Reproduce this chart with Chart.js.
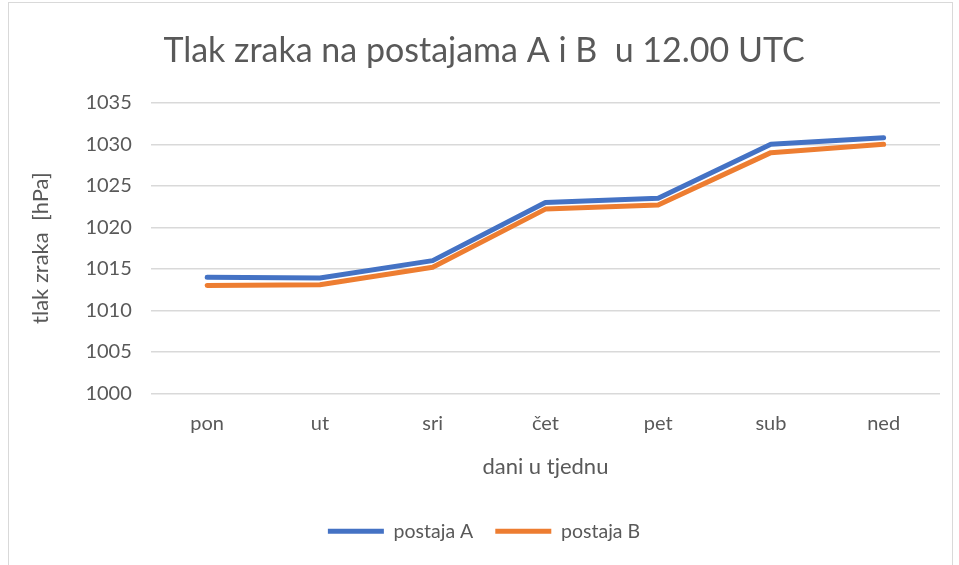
<!DOCTYPE html>
<html>
<head>
<meta charset="utf-8">
<script src="https://cdn.jsdelivr.net/npm/chart.js@4/dist/chart.umd.min.js"></script>
<style>
  html, body { margin: 0; padding: 0; background: #fff; }
  #wrap { position: absolute; left: 0; top: 0; width: 959px; height: 565px; }
  #frame { position: absolute; left: 8px; top: 2px; width: 945px; height: 580px; border: 1px solid #d9d9d9; box-sizing: border-box; }
  canvas { position: absolute; left: 0; top: 0; }
</style>
</head>
<body>
<div id="wrap">
  <div id="frame"></div>
  <canvas id="c" width="959" height="565"></canvas>
</div>
<script>
const categories = ['pon', 'ut', 'sri', 'čet', 'pet', 'sub', 'ned'];
const postajaA = [1014.0, 1013.9, 1016.0, 1023.0, 1023.5, 1030.0, 1030.8];
const postajaB = [1013.0, 1013.1, 1015.2, 1022.2, 1022.7, 1029.0, 1030.0];
const yTicks = [1000, 1005, 1010, 1015, 1020, 1025, 1030, 1035];

const FONT = "Lato, 'Open Sans', sans-serif";
const TXT = '#595959';

new Chart(document.getElementById('c'), {
  type: 'line',
  data: {
    labels: categories,
    datasets: [
      { label: 'postaja A', data: postajaA, borderColor: '#4472C4', backgroundColor: '#4472C4',
        borderWidth: 5, pointRadius: 0, tension: 0, borderCapStyle: 'round', borderJoinStyle: 'round' },
      { label: 'postaja B', data: postajaB, borderColor: '#ED7D31', backgroundColor: '#ED7D31',
        borderWidth: 5, pointRadius: 0, tension: 0, borderCapStyle: 'round', borderJoinStyle: 'round' }
    ]
  },
  options: {
    responsive: false,
    animation: false,
    layout: { padding: { left: 28, right: 19, top: 31, bottom: 14 } },
    plugins: {
      tooltip: { enabled: false },
      title: {
        display: true,
        text: 'Tlak zraka na postajama A i B  u 12.00 UTC',
        color: TXT,
        font: { family: FONT, size: 34, weight: 'normal' },
        padding: { top: 0, bottom: 31 }
      },
      legend: {
        position: 'bottom',
        labels: {
          color: TXT,
          font: { family: FONT, size: 19.5 },
          usePointStyle: true,
          pointStyle: 'line',
          pointStyleWidth: 56,
          boxHeight: 5,
          padding: 22
        }
      }
    },
    scales: {
      x: {
        offset: true,
        grid: { display: false, drawTicks: false },
        border: { display: false },
        ticks: { color: TXT, font: { family: FONT, size: 20 }, padding: 18 },
        title: { display: true, text: 'dani u tjednu', color: TXT, font: { family: FONT, size: 22, lineHeight: 1.0 }, padding: { top: 2, bottom: 22 } }
      },
      y: {
        min: 1000, max: 1035,
        afterBuildTicks: (axis) => { axis.ticks = yTicks.map(v => ({ value: v })); },
        grid: { color: '#d9d9d9', lineWidth: 1.5, drawTicks: false },
        border: { display: false },
        ticks: { color: TXT, font: { family: FONT, size: 20 }, padding: 19, callback: (v) => String(v) },
        title: { display: true, text: 'tlak zraka  [hPa]', color: TXT, font: { family: FONT, size: 22 }, padding: { top: 0, bottom: 12 } }
      }
    }
  }
});
</script>
</body>
</html>
